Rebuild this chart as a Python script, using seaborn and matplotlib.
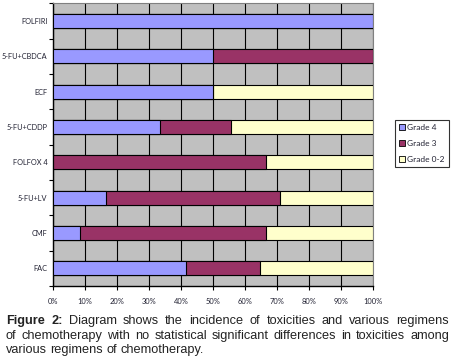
import numpy as np
import pandas as pd
import matplotlib
matplotlib.use("Agg")
import matplotlib.pyplot as plt
from matplotlib.patches import Patch
import seaborn as sns

# data (percent of patients per regimen)
regimens = ["FOLFIRI", "5-FU+CBDCA", "ECF", "5-FU+CDDP", "FOLFOX 4", "5-FU+LV", "CMF", "FAC"]
grade4 = [100.0, 50.0, 50.0, 33.3, 0.0, 16.7, 8.3, 41.7]
grade3 = [0.0, 50.0, 0.0, 22.2, 66.7, 54.1, 58.4, 22.9]
grade02 = [0.0, 0.0, 50.0, 44.5, 33.3, 29.2, 33.3, 35.4]
series_names = ["Grade 4", "Grade 3", "Grade 0-2"]
colors = ["#9999FF", "#993366", "#FFFFCC"]
xticks = list(range(0, 101, 10))

caption_lines = [
    "Diagram shows the incidence of toxicities and various regimens",
    "of chemotherapy with no statistical significant differences in toxicities among",
    "various regimens of chemotherapy.",
]

df = pd.DataFrame({"regimen": regimens, "g4": grade4, "g3": grade3, "g02": grade02})
df["c4"] = df["g4"]
df["c3"] = df["g4"] + df["g3"]
df["c02"] = df["c3"] + df["g02"]

sns.set_style("white")
plt.rcParams["font.family"] = ["Lato", "DejaVu Sans"]

fig = plt.figure(figsize=(4.52, 3.59), dpi=100)
ax = fig.add_axes([53 / 452, 1 - 286 / 359, 320 / 452, 282.7 / 359])
ax.set_facecolor("#C0C0C0")

# stacked bars: draw cumulative totals back to front
for col, color in zip(["c02", "c3", "c4"], colors[::-1]):
    sns.barplot(data=df, x=col, y="regimen", order=regimens, orient="h",
                color=color, width=0.4, edgecolor="black", linewidth=0.8,
                saturation=1, ax=ax, zorder=3)

ax.set_xlim(0, 100)
ax.set_ylim(len(regimens) - 0.5, -0.5)
ax.set_xlabel("")
ax.set_ylabel("")
ax.set_xticks(xticks)
ax.set_xticklabels([f"{t}%" for t in xticks])
ax.xaxis.grid(True, color="black", linewidth=0.8, zorder=1)
ax.yaxis.grid(False)
ax.set_axisbelow(True)

txt_color = "#222233"
ax.tick_params(axis="x", direction="out", length=3, width=0.8, color="black",
               labelsize=5.4, labelcolor=txt_color, pad=6, bottom=True)
ax.set_yticks(np.arange(len(regimens)))
ax.set_yticklabels(regimens)
ax.tick_params(axis="y", which="major", length=0, labelsize=5.3, labelcolor=txt_color, pad=4)
ax.set_yticks(np.arange(len(regimens) + 1) - 0.5, minor=True)
ax.tick_params(axis="y", which="minor", direction="out", length=3, width=0.8,
               color="black", left=True)

for side in ["left", "bottom"]:
    ax.spines[side].set_color("black")
    ax.spines[side].set_linewidth(1.0)
for side in ["top", "right"]:
    ax.spines[side].set_color("#808080")
    ax.spines[side].set_linewidth(0.8)

handles = [Patch(facecolor=c, edgecolor="black", linewidth=0.6, label=n)
           for c, n in zip(colors, series_names)]
leg = fig.legend(handles=handles, loc="upper left",
                 bbox_to_anchor=(395 / 452, 1 - 120 / 359), fontsize=6,
                 frameon=True, fancybox=False, edgecolor="black",
                 handlelength=0.7, handleheight=0.7, handletextpad=0.3,
                 labelspacing=1.05, borderpad=0.5, borderaxespad=0,
                 labelcolor=txt_color)
leg.get_frame().set_linewidth(0.8)

# justified caption, word by word
renderer = fig.canvas.get_renderer()
cap_font = dict(family="Liberation Sans", fontsize=9.2, color="#222222")
x_left, x_right = 6, 449
baselines = [324, 339, 353]


def width_px(word, bold=False):
    t = fig.text(0, 0, word, fontweight="bold" if bold else "normal", **cap_font)
    w = t.get_window_extent(renderer).width
    t.remove()
    return w


for i, line in enumerate(caption_lines):
    words = [(w, False) for w in line.split()]
    if i == 0:
        words = [("Figure", True), ("2:", True)] + words
    widths = [width_px(w, b) for w, b in words]
    space = width_px("a b") - width_px("ab")
    if i < len(caption_lines) - 1:
        space = (x_right - x_left - sum(widths)) / (len(words) - 1)
    x = x_left
    for (w, b), wd in zip(words, widths):
        fig.text(x / 452, 1 - baselines[i] / 359, w, ha="left", va="baseline",
                 fontweight="bold" if b else "normal", **cap_font)
        x += wd + space

fig.savefig("out.png", dpi=100)
